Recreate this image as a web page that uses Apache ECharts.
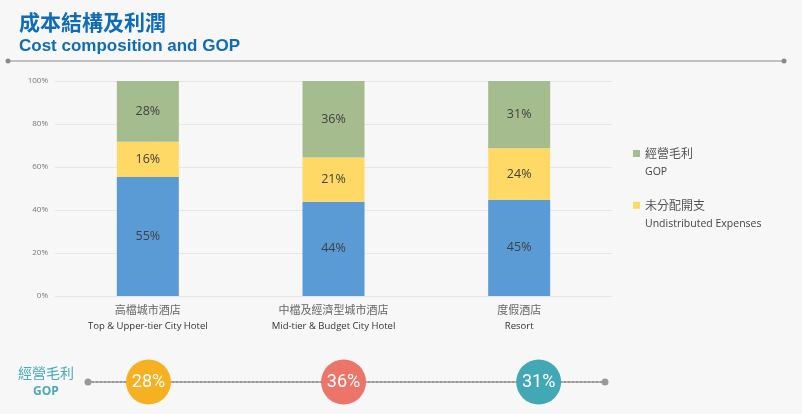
<!DOCTYPE html>
<html><head><meta charset="utf-8">
<script src="https://cdn.jsdelivr.net/npm/echarts@6/dist/echarts.min.js"></script>
<style>html,body{margin:0;padding:0;background:#f7f7f7}#c{width:802px;height:414px}</style>
</head><body><div id="c"></div><script>
const categoriesZh = ['高檔城市酒店', '中檔及經濟型城市酒店', '度假酒店'];
const categoriesEn = ['Top & Upper-tier City Hotel', 'Mid-tier & Budget City Hotel', 'Resort'];
const otherCost = [55.4, 43.8, 44.8];
const undistributed = [16.4, 20.6, 23.9];
const gop = [28.2, 35.6, 31.3];
const gopLabels = [28, 36, 31];
const yTicks = [0, 20, 40, 60, 80, 100];
const legendEn = { '經營毛利': 'GOP', '未分配開支': 'Undistributed Expenses' };
const circleColors = ['#F5B122', '#EA7568', '#43A8B6'];

const chart = echarts.init(document.getElementById('c'));
const labelFont = '"Open Sans", "Noto Sans CJK TC", sans-serif';
const barLabel = {
  show: true, position: 'inside', color: '#404040', fontSize: 12.5, fontFamily: labelFont,
  formatter: p => Math.round(p.value) + '%'
};
chart.setOption({
  backgroundColor: '#f7f7f7',
  animation: false,
  title: {
    text: '成本結構及利潤', left: 14, top: 7, itemGap: 5,
    textStyle: { fontSize: 21, fontWeight: 'bold', color: '#0E6CB8', fontFamily: '"Noto Sans CJK TC", sans-serif' },
    subtext: 'Cost composition and GOP',
    subtextStyle: { fontSize: 17, fontWeight: 'bold', color: '#0E6CB8', fontFamily: '"Liberation Sans", Arial, sans-serif' }
  },
  legend: {
    data: ['經營毛利', '未分配開支'], orient: 'vertical', left: 628, top: 124, itemGap: 3,
    itemWidth: 7, itemHeight: 7, icon: 'rect', selectedMode: false,
    formatter: name => '{s| }\n{a|' + name + '}\n{b|' + legendEn[name] + '}',
    textStyle: {
      fontFamily: labelFont,
      rich: {
        s: { fontSize: 11, lineHeight: 19 },
        a: { fontSize: 12, color: '#555', lineHeight: 19, fontFamily: '"Noto Sans CJK TC", sans-serif' },
        b: { fontSize: 10.5, color: '#444', lineHeight: 19, fontFamily: labelFont }
      }
    }
  },
  grid: [
    { left: 55, right: 190, top: 81, bottom: 118 },
    { left: 88, right: 197, top: 360, height: 44 }
  ],
  xAxis: [
    {
      type: 'category', gridIndex: 0, data: categoriesZh,
      axisLine: { show: false }, axisTick: { show: false },
      axisLabel: {
        margin: 6, interval: 0,
        formatter: (v, i) => '{zh|' + v + '}\n{en|' + categoriesEn[i] + '}',
        rich: {
          zh: { fontSize: 11, color: '#666', lineHeight: 16, fontFamily: '"Noto Sans CJK TC", sans-serif' },
          en: { fontSize: 9.5, color: '#333', lineHeight: 16, fontFamily: labelFont }
        }
      }
    },
    {
      type: 'value', gridIndex: 1, min: -0.31, max: 2.34,
      axisLine: { show: true, onZero: true, symbol: ['circle', 'circle'], symbolSize: [7, 7],
        lineStyle: { type: 'dotted', color: '#999', width: 2 } },
      axisTick: { show: false }, axisLabel: { show: false }, splitLine: { show: false }
    }
  ],
  yAxis: [
    {
      type: 'value', gridIndex: 0, min: yTicks[0], max: yTicks[yTicks.length - 1], interval: yTicks[1] - yTicks[0],
      axisLine: { show: false }, axisTick: { show: false },
      axisLabel: { formatter: '{value}%', fontSize: 8, color: '#777', margin: 7, fontFamily: labelFont },
      splitLine: { lineStyle: { color: '#e6e6e6' } }
    },
    { type: 'value', gridIndex: 1, min: -1, max: 1, show: false }
  ],
  series: [
    { name: '其他成本', type: 'bar', stack: 'cost', barWidth: 62, data: otherCost,
      itemStyle: { color: '#5B9BD5' }, label: barLabel },
    { name: '未分配開支', type: 'bar', stack: 'cost', barWidth: 62, data: undistributed,
      itemStyle: { color: '#FFD966' }, label: barLabel },
    { name: '經營毛利', type: 'bar', stack: 'cost', barWidth: 62, data: gop,
      itemStyle: { color: '#A5BC8F' }, label: barLabel },
    {
      name: 'GOP圓', type: 'scatter', xAxisIndex: 1, yAxisIndex: 1, symbolSize: 45, z: 5,
      data: gopLabels.map((v, i) => ({ value: [i, 0], itemStyle: { color: circleColors[i], opacity: 1 } })),
      itemStyle: { opacity: 1 },
      label: { show: true, position: 'inside', color: '#fff', fontSize: 18,
        fontFamily: '"Liberation Sans Narrow", Roboto, sans-serif',
        formatter: p => gopLabels[p.dataIndex] + '%' }
    }
  ],
  graphic: [
    { type: 'line', shape: { x1: 8, y1: 61, x2: 784, y2: 61 }, style: { stroke: '#8a8a8a', lineWidth: 1 } },
    { type: 'circle', shape: { cx: 8, cy: 61, r: 2.5 }, style: { fill: '#8a8a8a' } },
    { type: 'circle', shape: { cx: 784, cy: 61, r: 2.5 }, style: { fill: '#8a8a8a' } },
    { type: 'text', left: 18, top: 366, style: { text: '經營毛利', fontSize: 14, fill: '#4AA9B9', fontFamily: '"Noto Sans CJK TC", sans-serif' } },
    { type: 'text', left: 33, top: 386, style: { text: 'GOP', fontSize: 12, fontWeight: 'bold', fill: '#4AA9B9', fontFamily: labelFont } }
  ]
});
</script></body></html>
